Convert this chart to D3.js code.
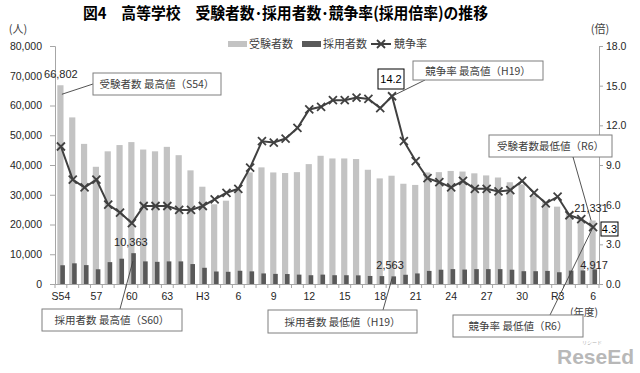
<!DOCTYPE html>
<html>
<head>
<meta charset="utf-8">
<script src="https://cdn.jsdelivr.net/npm/d3@7"></script>
<style>
  body { margin: 0; background: #fff; }
  text { font-family: "Noto Sans CJK JP", sans-serif; }
  .num { font-family: "Liberation Sans", Arial, sans-serif; }
</style>
</head>
<body>
<svg width="640" height="373"></svg>
<script>
// fiscal years S54 .. R6
const years = [
  "S54","S55","S56","S57","S58","S59","S60","S61","S62","S63",
  "H1","H2","H3","H4","H5","H6","H7","H8","H9","H10",
  "H11","H12","H13","H14","H15","H16","H17","H18","H19","H20",
  "H21","H22","H23","H24","H25","H26","H27","H28","H29","H30",
  "R1","R2","R3","R4","R5","R6"
];
const tickLabels = ["S54","57","60","63","H3","6","9","12","15","18","21","24","27","30","R3","6"];
const leftTicks = [0, 10000, 20000, 30000, 40000, 50000, 60000, 70000, 80000];
const rightTicks = [0, 3, 6, 9, 12, 15, 18];

// 受験者数
const applicants = [
  66802, 56000, 47100, 39400, 44600, 46700, 47700, 45200, 44600, 46100,
  43300, 38200, 32700, 26800, 28000, 31800, 37500, 39200, 37500, 37300,
  37600, 40300, 43100, 42200, 42200, 42000, 38400, 35500, 36400, 33700,
  33300, 37500, 37600, 38000, 37800, 37200, 36500, 35800, 34200, 33500,
  29800, 27500, 26000, 23800, 22400, 21331
];
// 採用者数
const hired = [
  6300, 6950, 6350, 4950, 7350, 8500, 10363, 7600, 7450, 7600,
  7600, 6700, 5450, 4200, 4100, 4450, 4250, 3550, 3400, 3350,
  3150, 2950, 3150, 2950, 2950, 2900, 2700, 2650, 2563, 3100,
  3550, 4400, 4800, 5000, 4850, 5000, 5000, 5000, 4800, 4300,
  4300, 4400, 3950, 4500, 4550, 4917
];
// 競争率
const ratio = [
  10.4, 7.9, 7.3, 7.9, 6.0, 5.4, 4.6, 5.9, 5.9, 5.9,
  5.6, 5.6, 5.9, 6.4, 6.9, 7.2, 8.8, 10.8, 10.7, 11.0,
  11.8, 13.2, 13.4, 13.9, 13.9, 14.1, 14.0, 13.3, 14.2, 10.8,
  9.3, 8.0, 7.7, 7.3, 7.8, 7.2, 7.2, 7.0, 7.1, 7.8,
  6.9, 6.1, 6.6, 5.2, 4.9, 4.3
];

const rows = years.map((y, i) => ({ year: y, a: applicants[i], h: hired[i], r: ratio[i] }));

const svg = d3.select("svg");
const lightFill = "#c3c3c3", darkFill = "#595959", lineCol = "#404040", axisCol = "#a6a6a6";

const x = d3.scaleBand().domain(years).range([55, 599]);
const yL = d3.scaleLinear().domain([0, 80000]).range([284, 46]);
const yR = d3.scaleLinear().domain([0, 18]).range([284, 46]);
const cx = d => x(d) + x.bandwidth() / 2;

// title
svg.append("text")
  .attr("x", 83).attr("y", 19)
  .attr("font-size", 16).attr("font-weight", "bold").attr("fill", "#000")
  .attr("textLength", 405).attr("lengthAdjust", "spacingAndGlyphs")
  .text("図4　高等学校　受験者数･採用者数･競争率(採用倍率)の推移");

// unit labels
svg.append("text").attr("x", 18).attr("y", 33).attr("text-anchor", "middle")
  .attr("font-size", 11).attr("fill", "#404040").text("(人)");
svg.append("text").attr("x", 600).attr("y", 33).attr("text-anchor", "middle")
  .attr("font-size", 11).attr("fill", "#404040").text("(倍)");

// legend
const lg = svg.append("g").attr("font-size", 11).attr("fill", "#404040");
lg.append("rect").attr("x", 228).attr("y", 41).attr("width", 19).attr("height", 6).attr("fill", lightFill);
lg.append("text").attr("x", 249).attr("y", 48).text("受験者数");
lg.append("rect").attr("x", 302).attr("y", 41).attr("width", 19).attr("height", 6).attr("fill", darkFill);
lg.append("text").attr("x", 323).attr("y", 48).text("採用者数");
lg.append("line").attr("x1", 371).attr("x2", 391).attr("y1", 44).attr("y2", 44)
  .attr("stroke", lineCol).attr("stroke-width", 2);
lg.append("path").attr("d", "M377,40L385,48M377,48L385,40")
  .attr("stroke", lineCol).attr("stroke-width", 1.8);
lg.append("text").attr("x", 394).attr("y", 48).text("競争率");

// bars
svg.append("g").selectAll("rect").data(rows).join("rect")
  .attr("x", d => cx(d.year) - 3.6)
  .attr("width", 6.2)
  .attr("y", d => yL(d.a))
  .attr("height", d => yL(0) - yL(d.a))
  .attr("fill", lightFill);

svg.append("g").selectAll("rect").data(rows).join("rect")
  .attr("x", d => cx(d.year) - 0.6)
  .attr("width", 4.6)
  .attr("y", d => yL(d.h))
  .attr("height", d => yL(0) - yL(d.h))
  .attr("fill", darkFill);

// axes
const styleAxis = g => {
  g.selectAll(".domain").attr("stroke", axisCol);
  g.selectAll(".tick line").attr("stroke", axisCol);
  g.selectAll(".tick text").attr("class", "num").attr("font-size", 10.5).attr("fill", "#262626");
};

svg.append("g").attr("transform", "translate(55,0)")
  .call(d3.axisLeft(yL).tickValues(leftTicks).tickFormat(d3.format(",")).tickSize(5).tickPadding(8))
  .call(styleAxis);

svg.append("g").attr("transform", "translate(599,0)")
  .call(d3.axisRight(yR).tickValues(rightTicks).tickFormat(d3.format(".1f")).tickSize(4).tickPadding(3))
  .call(styleAxis);

svg.append("g").attr("transform", "translate(0,284)")
  .call(d3.axisBottom(x)
    .tickValues(years.filter((d, i) => i % 3 === 0))
    .tickFormat((d, i) => tickLabels[i])
    .tickSize(0).tickSizeOuter(0).tickPadding(9))
  .call(styleAxis);

// small ticks on category boundaries
svg.append("g").selectAll("line").data(years.concat(["end"])).join("line")
  .attr("x1", d => d === "end" ? 599 : x(d))
  .attr("x2", d => d === "end" ? 599 : x(d))
  .attr("y1", 284).attr("y2", 288)
  .attr("stroke", axisCol);

svg.append("text").attr("x", 584).attr("y", 316).attr("text-anchor", "middle")
  .attr("font-size", 10.5).attr("fill", "#404040").text("(年度)");

// ratio line with x markers
svg.append("path").datum(rows)
  .attr("fill", "none").attr("stroke", lineCol).attr("stroke-width", 2)
  .attr("d", d3.line().x(d => cx(d.year)).y(d => yR(d.r)));

svg.append("g").selectAll("path").data(rows).join("path")
  .attr("d", d => {
    const px = cx(d.year), py = yR(d.r), s = 4;
    return `M${px - s},${py - s}L${px + s},${py + s}M${px - s},${py + s}L${px + s},${py - s}`;
  })
  .attr("stroke", lineCol).attr("stroke-width", 1.8).attr("fill", "none");

// annotations
const ann = svg.append("g");
function box(x0, y0, w, h, label, opt = {}) {
  ann.append("rect").attr("x", x0).attr("y", y0).attr("width", w).attr("height", h)
    .attr("fill", "#fff").attr("stroke", opt.stroke || "#7f7f7f").attr("stroke-width", opt.sw || 1);
  ann.append("text").attr("x", x0 + w / 2).attr("y", y0 + h / 2 + 4)
    .attr("text-anchor", "middle").attr("font-size", opt.fs || 10.5)
    .attr("fill", opt.fill || "#404040")
    .attr("class", opt.num ? "num" : null)
    .text(label);
}
function leader(x1, y1, x2, y2) {
  ann.append("line").attr("x1", x1).attr("y1", y1).attr("x2", x2).attr("y2", y2)
    .attr("stroke", "#404040").attr("stroke-width", 0.9);
}
function label(x0, y0, t) {
  ann.append("text").attr("class", "num").attr("x", x0).attr("y", y0)
    .attr("text-anchor", "middle").attr("font-size", 11).attr("fill", "#262626").text(t);
}

const iS54 = 0, iS60 = 6, iH19 = 28, iR6 = 45;

// 受験者数 最高値
label(cx("S54"), 78, d3.format(",")(applicants[iS54]));
leader(cx("S54") + 1, yL(applicants[iS54]) + 9, 93, 84);
box(93, 73, 128, 22, "受験者数 最高値（S54）");

// 採用者数 最高値
label(cx("S60") - 1, 246, d3.format(",")(hired[iS60]));
leader(cx("S60") + 1, yL(hired[iS60]) + 8, 120, 309);
box(42, 309, 140, 22, "採用者数 最高値（S60）");

// 競争率 最高値
box(378, 69, 26, 20, ratio[iH19].toFixed(1), { stroke: "#000", fill: "#000", num: true, fs: 11 });
leader(cx("H19"), yR(ratio[iH19]), 425, 80);
box(413, 61, 130, 19, "競争率 最高値（H19）");

// 採用者数 最低値
label(cx("H19") - 2, 269, d3.format(",")(hired[iH19]));
leader(cx("H19"), yL(hired[iH19]) + 2, 383, 310);
box(268, 310, 149, 23, "採用者数 最低値（H19）");

// 受験者数 最低値
box(489, 135, 123, 22, "受験者数最低値（R6）");
leader(573, 157, cx("R6") - 2, yL(applicants[iR6]));
label(591, 212, d3.format(",")(applicants[iR6]));
label(594, 269, d3.format(",")(hired[iR6]));

// 競争率 最低値
leader(550, 315, cx("R6"), yR(ratio[iR6]));
box(601, 222, 17, 14, ratio[iR6].toFixed(1), { stroke: "#000", fill: "#000", num: true, fs: 11 });
box(453, 315, 130, 22, "競争率 最低値（R6）");

// watermark
svg.append("text").attr("x", 592).attr("y", 344).attr("text-anchor", "middle")
  .attr("font-size", 5).attr("fill", "#b0b0b0").text("リシード");
svg.append("text").attr("class", "num").attr("x", 557).attr("y", 364)
  .attr("font-size", 21).attr("font-weight", "bold").attr("fill", "#b8b8b8")
  .text("ReseEd");
</script>
</body>
</html>
